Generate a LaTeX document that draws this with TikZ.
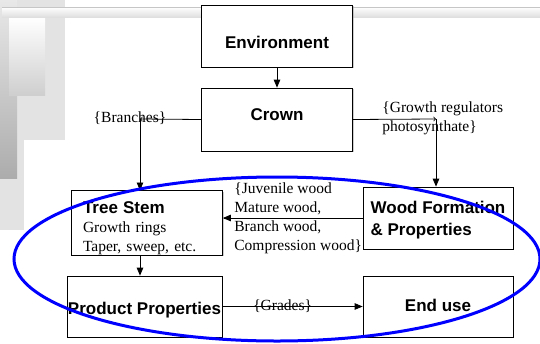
\documentclass[tikz,border=0pt]{standalone}
\usepackage{fontspec}
\setmainfont{Liberation Serif}
\newfontfamily\headfont{Liberation Sans}
\usepackage{tikz}
\usetikzlibrary{positioning}
\usetikzlibrary{shapes,arrows,shadows}
\tikzset{%
  block/.style = {draw, line width=0.8pt, rectangle, fill=white, inner sep=0pt,
    minimum width=151pt, minimum height=62pt,
    font=\headfont\bfseries\fontsize{17}{22}\selectfont,
    drop shadow={shadow xshift=1.2pt, shadow yshift=-1.2pt, fill=black!40, opacity=0.5}},
  note/.style  = {inner sep=0pt, align=left, font=\fontsize{15.5}{19}\selectfont}, % labels
  corner/.style = {coordinate} % bend of a connector
}
\newcommand{\shiftlabel}[2]{\raisebox{#1}[\height][\depth]{#2}}

\begin{document}
\begin{tikzpicture}[x=1pt, y=-1pt, line width=0.8pt, >=triangle 45]

  \useasboundingbox (0,0) rectangle (540,343);

  % slide decoration
  \fill[gray!22] (0,0) rectangle (65,140);
  \fill[gray!22] (0,140) rectangle (24,230);
  \shade[top color=gray!18, bottom color=gray!65] (0,0) rectangle (17,178);
  \shade[top color=white, bottom color=gray!38] (9,17) rectangle (45,95);
  \shade[top color=white, bottom color=gray!25] (2,7) rectangle (540,17);
  \draw[gray!45, line width=0.6pt] (2,7) -- (540,7);

  \draw node at (277,36) [block] (env) {\shiftlabel{-6pt}{Environment}};
  \draw node at (277,119.5) [block, minimum height=63pt] (crown) {\shiftlabel{5pt}{Crown}};
  \draw node at (147,223) [block, align=left, text width=128pt, inner xsep=11pt,
    font=\fontsize{15.5}{19}\selectfont] (stem)
    {\rule{0pt}{23pt}{\headfont\bfseries\fontsize{17}{19}\selectfont Tree Stem}\\Growth rings\\Taper, sweep, etc.};
  \draw node at (438,218) [block, align=left, inner xsep=7pt, minimum width=150pt] (wood)
    {\rule{0pt}{16.5pt}Wood Formation\\\& Properties};
  \draw node at (144.5,306.5) [block, minimum width=155pt, minimum height=61pt] (prod)
    {\shiftlabel{-3.5pt}{Product Properties}};
  \draw node at (438,306.5) [block, minimum width=150pt, minimum height=61pt] (end)
    {\shiftlabel{1.5pt}{End use}};

  \node[note] at (130,118) (branches) {\{Branches\}};
  \node[note, anchor=base west] at (382,131) (regul) {\{Growth regulators\\photosynthate\}};
  \node[note, anchor=base west] at (234,250) (juven)
    {\{Juvenile wood\\Mature wood,\\Branch wood,\\Compression wood\}};

  \node[corner] at (140,119) (brc) {};
  \node[corner] at (436,119) (grc) {};

  \draw[->] (env) -- (crown);
  \draw[-to] (crown.west) -- (brc);
  \draw[->] (brc) -- (brc |- stem.north);
  \draw[-to] (crown.east) -- (grc);
  \draw[->] (grc) -- (grc |- wood.north);
  \draw[->] (wood.west) -- (wood.west -| stem.east);
  \draw[->] ([xshift=-7pt]stem.south) -- ([xshift=-7pt]stem.south |- prod.north);
  \draw[->] (prod) -- node[note, pos=0.43] (grades) {\{Grades\}} (end);

  \draw[blue, line width=3pt] (277,259) ellipse [x radius=263, y radius=82];

\end{tikzpicture}
\end{document}
